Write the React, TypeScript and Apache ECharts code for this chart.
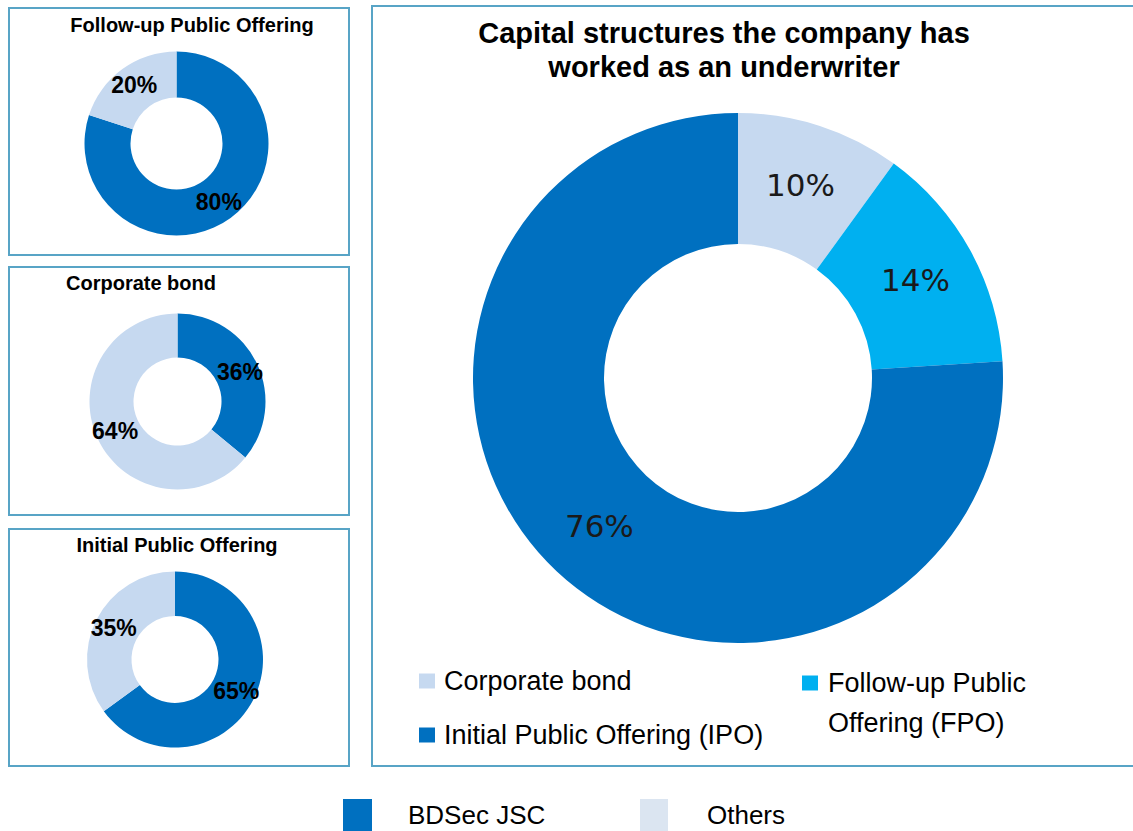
import React, { useEffect, useRef } from "react";
import * as echarts from "echarts";

// ---- data ----
const mainTitle = "Capital structures the company has\nworked as an underwriter";
const mainCategories = [
  "Corporate bond",
  "Follow-up Public Offering (FPO)",
  "Initial Public Offering (IPO)",
];
const mainShares = [10, 14, 76];
const mainColors = ["#c6d9f0", "#00b0f0", "#0070c0"];

const ownerNames = ["BDSec JSC", "Others"];
const ownerColors = ["#0070c0", "#c6d9f0"];
const ownerLegendColors = ["#0070c0", "#dbe5f1"];

const smallTitles = ["Follow-up Public Offering", "Corporate bond", "Initial Public Offering"];
const fpoShares = [80, 20];
const bondShares = [36, 64];
const ipoShares = [65, 35];
const smallShares = [fpoShares, bondShares, ipoShares];

// ---- layout (positions / sizes) ----
const FONT = "'Liberation Sans', Arial, sans-serif";
const smallBoxes = [
  { x: 9, y: 8, w: 340, h: 247 },
  { x: 9, y: 267, w: 340, h: 248 },
  { x: 9, y: 529, w: 340, h: 237 },
];
const smallTitlePos = [
  { cx: 192, cy: 25 },
  { cx: 141, cy: 283 },
  { cx: 177, cy: 545 },
];
const smallPies = [
  { center: [176.5, 143.5], radius: [46, 92] },
  { center: [177.5, 401.5], radius: [44, 88] },
  { center: [175, 659.5], radius: [43.5, 88] },
];
const mainBox = { x: 372, y: 6, w: 790, h: 760 };
const BORDER = "#58a4c6";

export default function App() {
  const ref = useRef<HTMLDivElement>(null);

  useEffect(() => {
    if (!ref.current) return;
    const chart = echarts.init(ref.current, null, { renderer: "svg" });

    const titles: any[] = [
      {
        text: mainTitle,
        left: 724,
        top: 16,
        textAlign: "center",
        padding: 0,
        textStyle: {
          fontFamily: FONT,
          fontWeight: "bold",
          fontSize: 29,
          lineHeight: 34,
          color: "#000",
        },
      },
      ...smallTitles.map((t, i) => ({
        text: t,
        left: smallTitlePos[i].cx,
        top: smallTitlePos[i].cy - 11,
        textAlign: "center",
        padding: 0,
        textStyle: {
          fontFamily: FONT,
          fontWeight: "bold",
          fontSize: 20,
          lineHeight: 22,
          color: "#000",
        },
      })),
    ];

    const smallSeries = smallShares.map((vals, i) => ({
      type: "pie",
      name: "small-pie-" + i,
      center: smallPies[i].center,
      radius: smallPies[i].radius,
      startAngle: 90,
      clockwise: true,
      silent: true,
      label: {
        show: true,
        position: "inside",
        formatter: "{c}%",
        fontFamily: FONT,
        fontWeight: "bold",
        fontSize: 23,
        color: "#000",
      },
      labelLine: { show: false },
      data: vals.map((v, k) => ({
        name: ownerNames[k],
        value: v,
        itemStyle: { color: ownerColors[k] },
      })),
    }));

    const mainSeries = {
      type: "pie",
      name: "main-pie",
      center: [738, 378],
      radius: [134, 265],
      startAngle: 90,
      clockwise: true,
      silent: true,
      label: {
        show: true,
        position: "inside",
        formatter: "{c}%",
        fontFamily: "'DejaVu Sans', Verdana, sans-serif",
        fontSize: 31,
        color: "#1a1a1a",
      },
      labelLine: { show: false },
      data: mainShares.map((v, k) => ({
        name: mainCategories[k],
        value: v,
        itemStyle: { color: mainColors[k] },
      })),
    };

    const legendText = {
      fontFamily: FONT,
      fontSize: 27,
      lineHeight: 30,
      color: "#000",
      padding: [0, 0, 0, 4],
    };

    const mainLegendItem = (k: number) => ({
      name: mainCategories[k],
      itemStyle: { color: mainColors[k] },
    });

    const legends: any[] = [
      {
        data: [mainLegendItem(0)],
        left: 419,
        top: 666,
        padding: 0,
        itemWidth: 16,
        itemHeight: 15,
        icon: "rect",
        selectedMode: false,
        textStyle: legendText,
      },
      {
        data: [mainLegendItem(2)],
        left: 419,
        top: 720,
        padding: 0,
        itemWidth: 16,
        itemHeight: 15,
        icon: "rect",
        selectedMode: false,
        textStyle: legendText,
      },
      {
        data: [mainLegendItem(1)],
        left: 802,
        top: 623,
        padding: 0,
        itemWidth: 16,
        itemHeight: 15,
        icon: "rect",
        selectedMode: false,
        formatter: () => " \nFollow-up Public\nOffering (FPO)",
        textStyle: { ...legendText, lineHeight: 40, padding: [0, 0, 0, 5] },
      },
      ...ownerNames.map((n, k) => ({
        data: [{ name: n, itemStyle: { color: ownerLegendColors[k] } }],
        left: k === 0 ? 343 : 640,
        top: 799,
        padding: 0,
        itemWidth: k === 0 ? 29 : 28,
        itemHeight: 32,
        icon: "rect",
        selectedMode: false,
        textStyle: {
          fontFamily: FONT,
          fontSize: 26,
          lineHeight: 30,
          color: "#000",
          padding: [0, 0, 0, k === 0 ? 31 : 34],
        },
      })),
    ];

    const boxes = [...smallBoxes, mainBox].map((b) => ({
      type: "rect",
      z: -1,
      silent: true,
      shape: { x: b.x, y: b.y, width: b.w, height: b.h },
      style: { fill: "none", stroke: BORDER, lineWidth: 2 },
    }));

    chart.setOption({
      animation: false,
      backgroundColor: "#ffffff",
      title: titles,
      legend: legends,
      graphic: boxes,
      series: [...smallSeries, mainSeries],
    });

    return () => chart.dispose();
  }, []);

  return (
    <div
      ref={ref}
      style={{ position: "fixed", left: 0, top: 0, width: 1133, height: 831 }}
    />
  );
}
